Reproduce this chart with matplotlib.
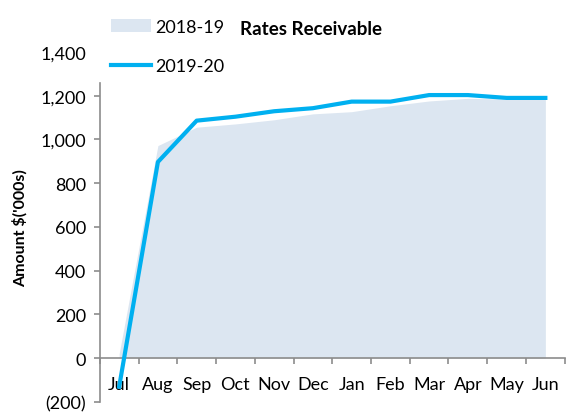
import numpy as np
import matplotlib.pyplot as plt
from matplotlib.ticker import FuncFormatter, FixedLocator

plt.rcParams['font.family'] = ['Lato', 'DejaVu Sans']

# Данные (тыс. $)
months = ['Jul', 'Aug', 'Sep', 'Oct', 'Nov', 'Dec', 'Jan', 'Feb', 'Mar', 'Apr', 'May', 'Jun']
rates_1819 = [20, 972, 1056, 1071, 1090, 1117, 1127, 1154, 1176, 1188, 1185, 1185]
rates_1920 = [-131, 897, 1086, 1104, 1129, 1143, 1173, 1173, 1203, 1203, 1190, 1190]

area_color = '#DCE6F1'
line_color = '#00B0F0'
axis_color = '#8C8C8C'

fig = plt.figure(figsize=(5.67, 4.14), dpi=100)
ax = fig.add_axes([0.176, 0.027, 0.82, 0.845])

x = np.arange(len(months))
ax.fill_between(x, 0, rates_1819, color=area_color, lw=0, label='2018-19', zorder=1)
ax.plot(x, rates_1920, color=line_color, lw=3, label='2019-20', zorder=3, solid_joinstyle='round')

ax.set_xlim(-0.5, len(months) - 0.5)
ax.set_ylim(-200, 1400)

# Оси
for s in ['top', 'right']:
    ax.spines[s].set_visible(False)
ax.spines['bottom'].set_position(('data', 0))
ax.spines['left'].set_bounds(-200, 1260)
for s in ['left', 'bottom']:
    ax.spines[s].set_color(axis_color)
    ax.spines[s].set_linewidth(1.2)

ax.set_yticks(range(-200, 1401, 200))
ax.yaxis.set_major_formatter(FuncFormatter(
    lambda v, p: f'({abs(v):,.0f})' if v < 0 else f'{v:,.0f}'))
ax.tick_params(axis='y', length=4, width=1.2, color=axis_color, labelsize=13, pad=6)
ax.yaxis.get_major_ticks()[-1].tick1line.set_visible(False)

ax.set_xticks(x)
ax.set_xticklabels(months)
ax.xaxis.set_minor_locator(FixedLocator(np.arange(-0.5, len(months), 1)))
ax.tick_params(axis='x', which='major', length=0, labelsize=13, pad=13)
ax.tick_params(axis='x', which='minor', length=4, width=1.2, color=axis_color, direction='out')

ax.set_ylabel("Amount $('000s)", fontsize=11.5, fontweight='bold', labelpad=9)

leg = ax.legend(loc='upper left', bbox_to_anchor=(-0.01, 1.142), frameon=False,
                fontsize=13, handlelength=2.2, labelspacing=1.3, handletextpad=0.25)

fig.text(0.423, 0.928, 'Rates Receivable', fontsize=13.5, fontweight='bold', va='center')

plt.savefig('out.png', dpi=100)
